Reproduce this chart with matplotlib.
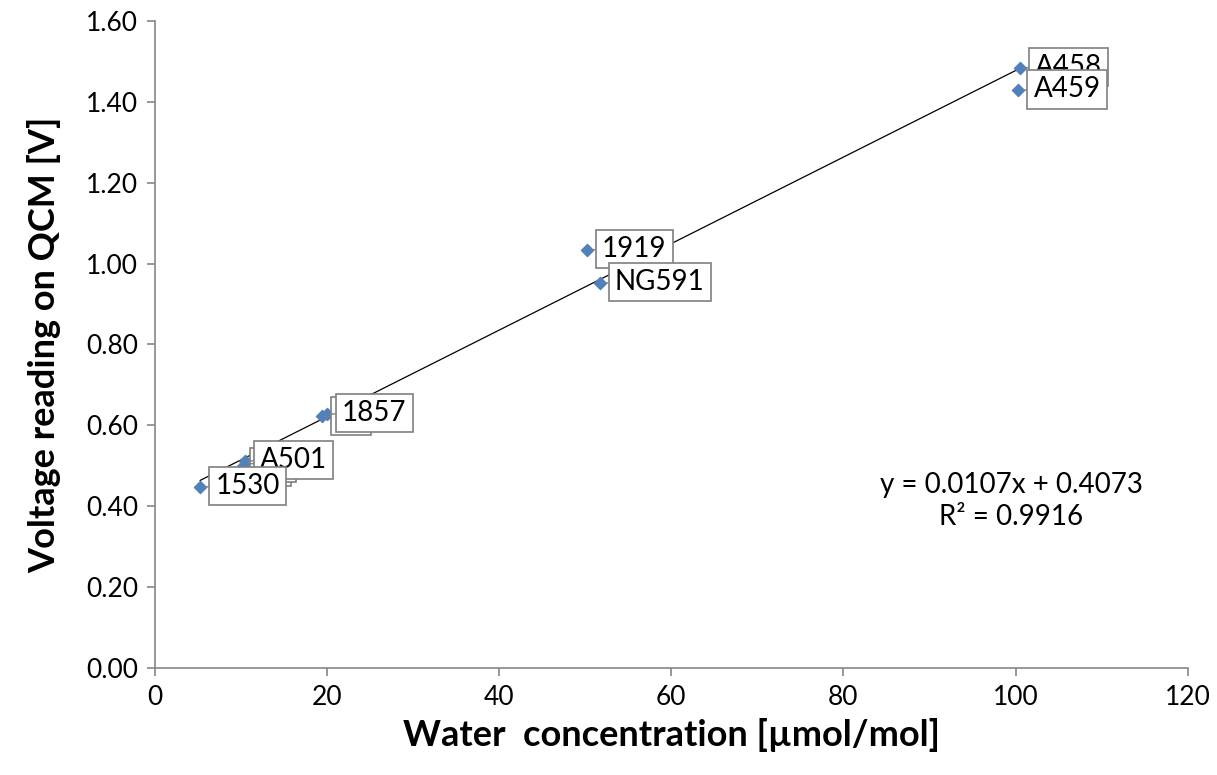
import matplotlib.pyplot as plt
import numpy as np

# measured points (x: water concentration, y: QCM voltage)
water_conc = [10.0, 10.6, 19.4, 10.5, 5.3, 20.0, 50.2, 51.7, 100.5, 100.3]
voltage = [0.495, 0.505, 0.622, 0.512, 0.448, 0.628, 1.034, 0.952, 1.484, 1.429]
point_labels = ["    ", "    ", "    ", "A501", "1530", "1857", "1919", "NG591", "A458", "A459"]

fit_slope = 0.0107
fit_intercept = 0.4073
fit_text = "y = 0.0107x + 0.4073\nR² = 0.9916"

x_ticks = [0, 20, 40, 60, 80, 100, 120]
y_ticks = [0.0, 0.2, 0.4, 0.6, 0.8, 1.0, 1.2, 1.4, 1.6]

plt.rcParams["font.family"] = ["Lato", "DejaVu Sans"]

fig = plt.figure(figsize=(12.17, 7.75), dpi=100)
ax = fig.add_axes([0.127, 0.138, 0.849, 0.835])

x_fit = np.array([min(water_conc), max(water_conc)])
ax.plot(x_fit, fit_slope * x_fit + fit_intercept, color="black", linewidth=0.9, zorder=2)

ax.scatter(water_conc, voltage, marker="D", s=38, color="#4F81BD", zorder=3)

for i, (x, y, lab) in enumerate(zip(water_conc, voltage, point_labels)):
    ax.annotate(
        lab, xy=(x, y), xytext=(11, 0.5), textcoords="offset points",
        ha="left", va="center", fontsize=20, color="black",
        bbox=dict(boxstyle="square,pad=0.22", facecolor="white", edgecolor="#7f7f7f", linewidth=1.2),
        arrowprops=dict(arrowstyle="-", color="#7f7f7f", linewidth=1.0, shrinkA=0, shrinkB=2),
        zorder=4 + i,
    )

ax.text(99.5, 0.413, fit_text, ha="center", va="center", fontsize=20, linespacing=1.25)

ax.set_xlim(0, 120)
ax.set_ylim(0, 1.6)
ax.set_xticks(x_ticks)
ax.set_yticks(y_ticks)
ax.set_yticklabels([f"{v:.2f}" for v in y_ticks])
ax.tick_params(axis="both", labelsize=19, color="#868686", direction="out", length=6, width=1.2, pad=6)

for side in ["top", "right"]:
    ax.spines[side].set_visible(False)
for side in ["left", "bottom"]:
    ax.spines[side].set_color("#868686")
    ax.spines[side].set_linewidth(1.2)

ax.set_xlabel("Water  concentration [µmol/mol]", fontsize=26, fontweight="bold", labelpad=6)
ax.set_ylabel("Voltage reading on QCM [V]", fontsize=26, fontweight="bold", labelpad=18)

fig.savefig("out.png", dpi=100)
